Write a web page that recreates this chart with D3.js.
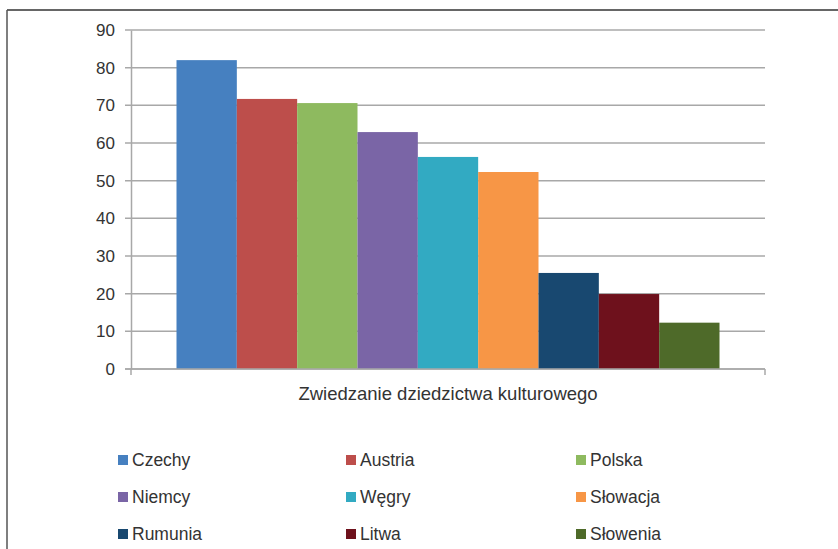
<!DOCTYPE html>
<html><head><meta charset="utf-8">
<script src="https://cdn.jsdelivr.net/npm/d3@7"></script>
<style>
html,body{margin:0;padding:0;background:#fff;}
svg{display:block;}
text{font-family:"Liberation Sans",Arial,sans-serif;fill:#333;}
</style></head>
<body>
<svg id="chart" width="838" height="549"></svg>
<script>
const categories = ["Czechy","Austria","Polska","Niemcy","Węgry","Słowacja","Rumunia","Litwa","Słowenia"];
const values = [82.0, 71.7, 70.6, 62.9, 56.3, 52.3, 25.5, 19.9, 12.3];
const colors = ["#4680c0","#bd4e4b","#8eba5f","#7a65a6","#32aac2","#f79646","#184870","#6e111c","#4e6a29"];
const yTicks = [0,10,20,30,40,50,60,70,80,90];
const groupLabel = "Zwiedzanie dziedzictwa kulturowego";

const svg = d3.select("#chart");
const mLeft = 131, mRight = 765, mTop = 30, mBottom = 369;

// frame
svg.append("line").attr("x1",7).attr("x2",838).attr("y1",10).attr("y2",10).attr("stroke","#333").attr("stroke-width",1.5);
svg.append("line").attr("x1",7).attr("x2",7).attr("y1",10).attr("y2",549).attr("stroke","#555").attr("stroke-width",1.5);

const y = d3.scaleLinear().domain([0,90]).range([mBottom, mTop]);
const x0 = d3.scaleBand().domain([groupLabel]).range([mLeft, mRight]).paddingInner(0).paddingOuter(0);
const groupW = x0.bandwidth();
const barsW = groupW * 543/634;
const x1 = d3.scaleBand().domain(categories).range([x0(groupLabel) + (groupW-barsW)/2, x0(groupLabel) + (groupW+barsW)/2]).padding(0);

// gridlines
svg.append("g").selectAll("line").data(yTicks).join("line")
  .attr("x1", mLeft-6).attr("x2", mRight)
  .attr("y1", d=>y(d)).attr("y2", d=>y(d))
  .attr("stroke","#a8a8a8").attr("stroke-width",1.5);

// y axis
const yAxis = d3.axisLeft(y).tickValues(yTicks).tickSize(0).tickPadding(16);
const gy = svg.append("g").attr("transform",`translate(${mLeft},0)`).call(yAxis);
gy.select(".domain").attr("stroke","#a8a8a8").attr("stroke-width",1.5);
gy.selectAll("text").style("font-size","17px").attr("fill","#333").style("font-family","'Liberation Sans',sans-serif");

// bars
svg.append("g").selectAll("rect").data(categories).join("rect")
  .attr("x", d=>x1(d)).attr("width", x1.bandwidth())
  .attr("y", (d,i)=>y(values[i])).attr("height", (d,i)=>y(0)-y(values[i]))
  .attr("fill", (d,i)=>colors[i]);

// x axis
const xAxis = d3.axisBottom(x0).tickSize(0).tickPadding(18);
const gx = svg.append("g").attr("transform",`translate(0,${mBottom})`).call(xAxis);
gx.select(".domain").remove();
svg.append("line").attr("x1",mLeft-6).attr("x2",mRight).attr("y1",mBottom).attr("y2",mBottom).attr("stroke","#a8a8a8").attr("stroke-width",1.5);
svg.append("g").selectAll("line").data([mLeft, mRight]).join("line")
  .attr("x1",d=>d).attr("x2",d=>d).attr("y1",mBottom).attr("y2",mBottom+6)
  .attr("stroke","#a8a8a8").attr("stroke-width",1.5);
gx.selectAll("text").style("font-size","18.5px").attr("fill","#333").style("font-family","'Liberation Sans',sans-serif");

// legend
const colX = [118, 346, 576];
const rowY = [460, 497, 534];
const lg = svg.append("g").selectAll("g").data(categories).join("g")
  .attr("transform",(d,i)=>`translate(${colX[i%3]},${rowY[Math.floor(i/3)]})`);
lg.append("rect").attr("x",0).attr("y",-5).attr("width",10).attr("height",10).attr("fill",(d,i)=>colors[i]);
lg.append("text").attr("x",14).attr("y",0).attr("dy","0.35em").style("font-size","17.5px").text(d=>d);
</script>
</body></html>
